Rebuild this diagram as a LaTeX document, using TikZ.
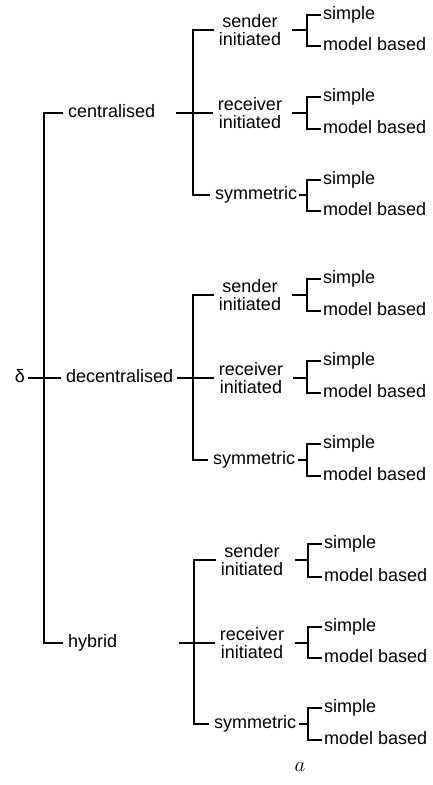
\documentclass[tikz,border=0pt]{standalone}
\usepackage{fontspec}
\setmainfont{Liberation Sans}
\newcommand{\treefont}{\fontsize{18}{18}\selectfont}
\tikzset{branch/.style={line width=1.1pt, color=black}}
\tikzset{lbl/.style={inner sep=5pt, text height=12pt, text depth=4pt, font=\treefont}}
\tikzset{twoline/.style={inner sep=5pt, align=center, font=\treefont}}
\tikzset{leaf/.style={inner sep=2pt, anchor=west, text height=12pt, text depth=4pt, font=\treefont}}

\begin{document}
\begin{tikzpicture}[x=1pt, y=-1pt]
    \useasboundingbox (0,0) rectangle (432,785);

    % root and first level
    \node[lbl, inner sep=3pt] (root) at (20, 378) {δ};
    \node[lbl, anchor=west] (cen) at (63, 113) {centralised};
    \node[lbl, anchor=west] (dec) at (61, 378) {decentralised};
    \node[lbl, anchor=west] (hyb) at (63, 643) {hybrid};
    \coordinate (spine) at (44, 378);

    \draw [branch] (root) -- (dec);
    \draw [branch] (cen.west) -| (spine) |- (hyb.west);

    % centralised
    \coordinate (oC) at (176, 113);
    \coordinate (jC) at (193, 113);
    \node[twoline] (sendC) at (250, 30) {sender\\initiated};
    \node[twoline] (recC) at (250, 113) {receiver\\initiated};
    \node[lbl, anchor=west] (symC) at (210, 195) {symmetric};

    \draw [branch] (oC) -- (recC.west);
    \draw [branch] (sendC.west) -| (jC) |- (symC.west);

    \coordinate (tCa) at (292, 30);
    \coordinate (kCa) at (307, 30);
    \node[leaf] (simCa) at (321, 15) {simple};
    \node[leaf] (modCa) at (321, 46) {model based};
    \draw [branch] (tCa) -- (kCa);
    \draw [branch] (simCa.west) -| (kCa) |- (modCa.west);

    \coordinate (tCb) at (292, 113);
    \coordinate (kCb) at (307, 113);
    \node[leaf] (simCb) at (321, 97) {simple};
    \node[leaf] (modCb) at (321, 129) {model based};
    \draw [branch] (tCb) -- (kCb);
    \draw [branch] (simCb.west) -| (kCb) |- (modCb.west);

    \coordinate (tCc) at (299, 195);
    \coordinate (kCc) at (307, 195);
    \node[leaf] (simCc) at (321, 180) {simple};
    \node[leaf] (modCc) at (321, 211) {model based};
    \draw [branch] (tCc) -- (kCc);
    \draw [branch] (simCc.west) -| (kCc) |- (modCc.west);

    % decentralised
    \coordinate (oD) at (177, 378);
    \coordinate (jD) at (193, 378);
    \node[twoline] (sendD) at (250, 295) {sender\\initiated};
    \node[twoline] (recD) at (251, 378) {receiver\\initiated};
    \node[lbl, anchor=west] (symD) at (208, 460) {symmetric};

    \draw [branch] (oD) -- (recD.west);
    \draw [branch] (sendD.west) -| (jD) |- (symD.west);

    \coordinate (tDa) at (292, 295);
    \coordinate (kDa) at (307, 295);
    \node[leaf] (simDa) at (321, 279) {simple};
    \node[leaf] (modDa) at (321, 311) {model based};
    \draw [branch] (tDa) -- (kDa);
    \draw [branch] (simDa.west) -| (kDa) |- (modDa.west);

    \coordinate (tDb) at (293, 378);
    \coordinate (kDb) at (307, 378);
    \node[leaf] (simDb) at (321, 361) {simple};
    \node[leaf] (modDb) at (321, 393) {model based};
    \draw [branch] (tDb) -- (kDb);
    \draw [branch] (simDb.west) -| (kDb) |- (modDb.west);

    \coordinate (tDc) at (298, 460);
    \coordinate (kDc) at (307, 460);
    \node[leaf] (simDc) at (321, 444) {simple};
    \node[leaf] (modDc) at (321, 476) {model based};
    \draw [branch] (tDc) -- (kDc);
    \draw [branch] (simDc.west) -| (kDc) |- (modDc.west);

    % hybrid
    \coordinate (oH) at (179, 643);
    \coordinate (jH) at (194, 643);
    \node[twoline] (sendH) at (252, 560) {sender\\initiated};
    \node[twoline] (recH) at (252, 643) {receiver\\initiated};
    \node[lbl, anchor=west] (symH) at (209, 724) {symmetric};

    \draw [branch] (oH) -- (recH.west);
    \draw [branch] (sendH.west) -| (jH) |- (symH.west);

    \coordinate (tHa) at (295, 560);
    \coordinate (kHa) at (308, 560);
    \node[leaf] (simHa) at (322, 544) {simple};
    \node[leaf] (modHa) at (322, 577) {model based};
    \draw [branch] (tHa) -- (kHa);
    \draw [branch] (simHa.west) -| (kHa) |- (modHa.west);

    \coordinate (tHb) at (295, 643);
    \coordinate (kHb) at (308, 643);
    \node[leaf] (simHb) at (322, 627) {simple};
    \node[leaf] (modHb) at (322, 658) {model based};
    \draw [branch] (tHb) -- (kHb);
    \draw [branch] (simHb.west) -| (kHb) |- (modHb.west);

    \coordinate (tHc) at (299, 724);
    \coordinate (kHc) at (308, 724);
    \node[leaf] (simHc) at (322, 708) {simple};
    \node[leaf] (modHc) at (322, 740) {model based};
    \draw [branch] (tHc) -- (kHc);
    \draw [branch] (simHc.west) -| (kHc) |- (modHc.west);

    % caption
    \node[font=\fontsize{20}{20}\selectfont] (cap) at (300, 767) {$a$};
\end{tikzpicture}
\end{document}
